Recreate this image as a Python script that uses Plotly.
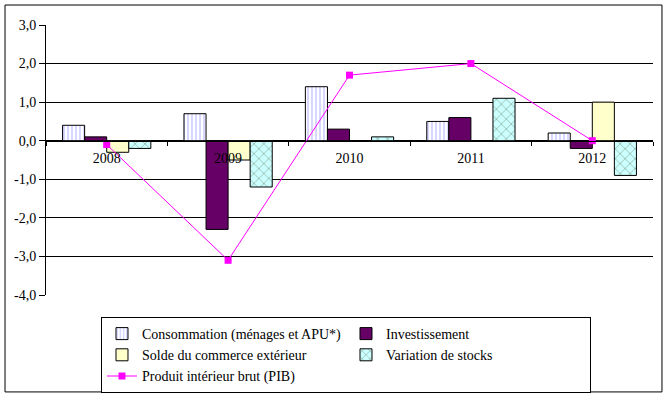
import plotly.graph_objects as go

years = ["2008", "2009", "2010", "2011", "2012"]
consommation = [0.4, 0.7, 1.4, 0.5, 0.2]
investissement = [0.1, -2.3, 0.3, 0.6, -0.2]
solde = [-0.3, -0.5, 0.0, 0.0, 1.0]
variation = [-0.2, -1.2, 0.1, 1.1, -0.9]
pib = [-0.1, -3.1, 1.7, 2.0, 0.0]

y_ticks = [-4, -3, -2, -1, 0, 1, 2, 3]
y_tick_labels = ["-4,0", "-3,0", "-2,0", "-1,0", "0,0", "1,0", "2,0", "3,0"]

FONT = "Liberation Serif, Times New Roman, serif"
line_blk = dict(color="black", width=1)

fig = go.Figure()
fig.add_trace(go.Bar(
    name="Consommation (ménages et APU*)", x=years, y=consommation,
    marker=dict(color="white", line=line_blk,
                pattern=dict(shape="|", fgcolor="#7777FF", bgcolor="white", size=4, solidity=0.3)),
))
fig.add_trace(go.Bar(
    name="Investissement", x=years, y=investissement,
    marker=dict(color="#660066", line=line_blk),
))
fig.add_trace(go.Bar(
    name="Solde du commerce extérieur", x=years, y=solde,
    marker=dict(color="#FFFFCC", line=line_blk),
))
fig.add_trace(go.Bar(
    name="Variation de stocks", x=years, y=variation,
    marker=dict(color="#CCFFFF", line=line_blk,
                pattern=dict(shape="x", fgcolor="#222200", bgcolor="#CCFFFF", size=7, solidity=0.15)),
))
fig.add_trace(go.Scatter(
    name="Produit intérieur brut (PIB)", x=years, y=pib, mode="lines+markers",
    line=dict(color="#FF00FF", width=1),
    marker=dict(symbol="square", size=7, color="#FF00FF"),
))

ymin, ymax = -4, 3
fig.update_layout(
    width=668, height=397,
    margin=dict(l=46, r=15, t=25, b=102, autoexpand=False),
    paper_bgcolor="white", plot_bgcolor="white",
    font=dict(family=FONT, size=14, color="black"),
    barmode="group", bargap=0.273, bargroupgap=0,
    showlegend=True,
    legend=dict(
        orientation="h", x=0.0906, xanchor="left", y=-0.0815, yanchor="top",
        bordercolor="black", borderwidth=1, bgcolor="white",
        font=dict(family=FONT, size=14, color="black"),
        entrywidth=199, entrywidthmode="pixels",
        traceorder="normal", itemclick=False, tracegroupgap=0,
    ),
    xaxis=dict(
        type="category", anchor="free", position=(0 - ymin) / (ymax - ymin),
        showline=True, linecolor="black", linewidth=1,
        ticks="outside", tickson="boundaries", ticklen=4, tickcolor="black",
        ticklabelstandoff=4,
        showgrid=False, zeroline=False,
        tickfont=dict(family=FONT, size=14),
    ),
    yaxis=dict(
        range=[ymin, ymax], tickvals=y_ticks, ticktext=y_tick_labels,
        showline=True, linecolor="black", linewidth=1,
        ticks="outside", ticklen=6, tickcolor="black",
        showgrid=True, gridcolor="black", gridwidth=1,
        zeroline=True, zerolinecolor="black", zerolinewidth=1,
        tickfont=dict(family=FONT, size=14),
    ),
    shapes=[dict(type="rect", xref="paper", yref="paper",
                 x0=-0.0675, x1=1.0148, y0=-0.359, y1=1.074,
                 line=dict(color="black", width=1), fillcolor="rgba(0,0,0,0)")],
)

fig.write_html("out.html", config={"displayModeBar": False},
               post_script="document.body.style.margin='0';")
